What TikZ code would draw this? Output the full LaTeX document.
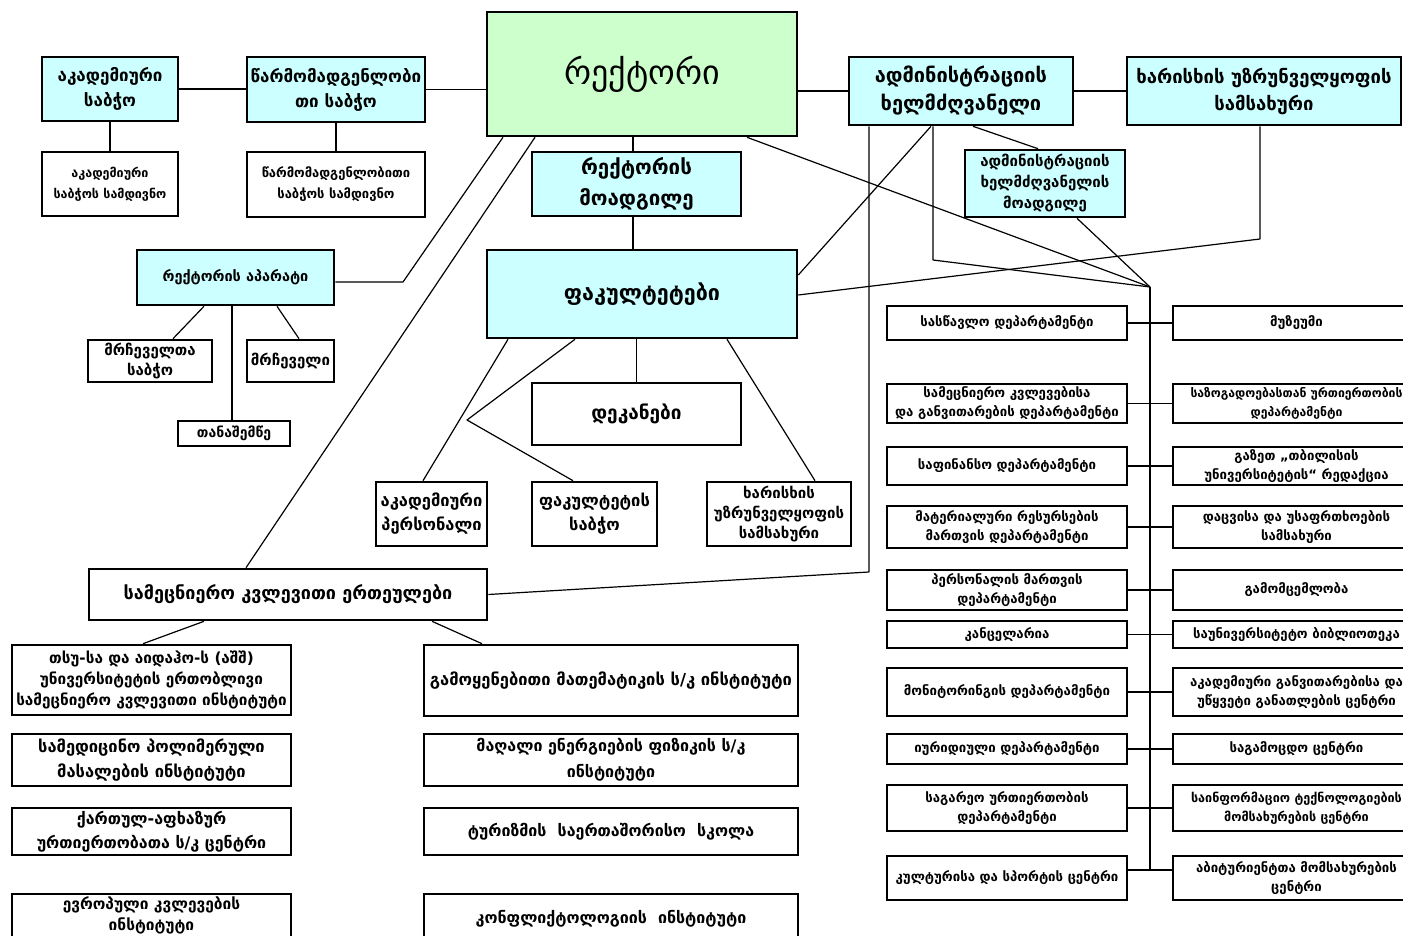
\documentclass[tikz,border=0pt]{standalone}
\usepackage{fontspec}
\setmainfont{DejaVu Sans}
\usetikzlibrary{backgrounds}
\definecolor{cy}{RGB}{204,255,255}
\definecolor{gr}{RGB}{204,255,204}
\newcommand\fs[2]{\fontsize{#1}{#2}\selectfont}
\newcommand\mkbox[7][]{\node[boxbase,#1,minimum width={(#5)-(#3)},minimum height={(#6)-(#4)}] (#2) at ({((#3)+(#5))/2},{((#4)+(#6))/2}) {#7};}
\tikzset{
  boxbase/.style={draw=black, line width=2.6pt, inner sep=0pt, align=center, fill=white},
  cyanbox/.style={fill=cy},
  greenbox/.style={fill=gr},
  conn/.style={line width=1.2pt, line join=round},
  rl/.style={font=\bfseries\fs{13.2}{19}},
}
\begin{document}
\begin{tikzpicture}[x=1pt,y=-1pt]
\useasboundingbox (0,0) rectangle (1403,936);
% top rows
\mkbox[greenbox,font=\fs{34}{40}]{rector}{487}{12}{797}{136}{რექტორი}
\mkbox[cyanbox,font=\bfseries\fs{17}{25}]{acs}{42}{57}{178}{121}{აკადემიური\\საბჭო}
\mkbox[cyanbox,font=\bfseries\fs{17}{25}]{rep}{247}{57}{425}{122}{წარმომადგენლობი\\თი საბჭო}
\mkbox[cyanbox,font=\bfseries\fs{20}{28}]{adm}{849}{57}{1073}{125}{ადმინისტრაციის\\ხელმძღვანელი}
\mkbox[cyanbox,font=\bfseries\fs{18.5}{27}]{qual}{1127}{57}{1401}{125}{ხარისხის უზრუნველყოფის\\სამსახური}
\mkbox[font=\bfseries\fs{12.5}{21}]{acsec}{42}{152}{178}{216}{აკადემიური\\საბჭოს სამდივნო}
\mkbox[font=\bfseries\fs{13}{21}]{repsec}{247}{152}{425}{217}{წარმომადგენლობითი\\საბჭოს სამდივნო}
\mkbox[cyanbox,font=\bfseries\fs{20.5}{31}]{dep}{532}{152}{741}{216}{რექტორის\\მოადგილე}
\mkbox[cyanbox,font=\bfseries\fs{15}{21}]{admdep}{965}{150}{1125}{217}{ადმინისტრაციის\\ხელმძღვანელის\\მოადგილე}
% rector's office
\mkbox[cyanbox,font=\bfseries\fs{14.5}{20}]{app}{137}{250}{334}{305}{რექტორის აპარატი}
\mkbox[font=\bfseries\fs{15}{20}]{advc}{88}{340}{212}{382}{მრჩეველთა\\საბჭო}
\mkbox[font=\bfseries\fs{15}{20}]{adv}{247}{340}{334}{382}{მრჩეველი}
\mkbox[font=\bfseries\fs{14}{18}]{asst}{178}{421}{290}{446}{თანაშემწე}
% faculties
\mkbox[cyanbox,font=\bfseries\fs{21.5}{28}]{fac}{487}{250}{797}{338}{ფაკულტეტები}
\mkbox[font=\bfseries\fs{19}{26}]{deans}{532}{383}{741}{445}{დეკანები}
\mkbox[font=\bfseries\fs{16.5}{24}]{staff}{376}{482}{487}{546}{აკადემიური\\პერსონალი}
\mkbox[font=\bfseries\fs{16.5}{24}]{fcouncil}{532}{482}{657}{546}{ფაკულტეტის\\საბჭო}
\mkbox[font=\bfseries\fs{15}{20}]{fqual}{707}{482}{851}{546}{ხარისხის\\უზრუნველყოფის\\სამსახური}
% research units
\mkbox[font=\bfseries\fs{18}{24}]{research}{89}{569}{487}{620}{სამეცნიერო კვლევითი ერთეულები}
\mkbox[font=\bfseries\fs{15.3}{21}]{L1}{12}{645}{291}{715}{თსუ-სა და აიდაჰო-ს (აშშ)\\უნივერსიტეტის ერთობლივი\\სამეცნიერო კვლევითი ინსტიტუტი}
\mkbox[font=\bfseries\fs{16.5}{25}]{L2}{12}{734}{291}{786}{სამედიცინო პოლიმერული\\მასალების ინსტიტუტი}
\mkbox[font=\bfseries\fs{16}{24}]{L3}{12}{808}{291}{855}{ქართულ-აფხაზურ\\ურთიერთობათა ს/კ ცენტრი}
\mkbox[font=\bfseries\fs{15.5}{21}]{L4}{12}{894}{291}{937}{ევროპული კვლევების\\ინსტიტუტი}
\mkbox[font=\bfseries\fs{16.5}{24}]{M1}{424}{645}{798}{716}{გამოყენებითი მათემატიკის ს/კ ინსტიტუტი}
\mkbox[font=\bfseries\fs{16}{26}]{M2}{424}{734}{798}{786}{მაღალი ენერგიების ფიზიკის ს/კ\\ინსტიტუტი}
\mkbox[font=\bfseries\fs{16}{24}]{M3}{424}{808}{798}{855}{ტურიზმის~~საერთაშორისო~~სკოლა}
\mkbox[font=\bfseries\fs{16}{24}]{M4}{424}{894}{798}{944}{კონფლიქტოლოგიის~~ინსტიტუტი}
% administration departments
\mkbox[rl]{A1}{887}{306}{1127}{340}{სასწავლო დეპარტამენტი}
\mkbox[rl]{A2}{887}{384}{1127}{423}{სამეცნიერო კვლევებისა\\და განვითარების დეპარტამენტი}
\mkbox[rl]{A3}{887}{447}{1127}{485}{საფინანსო დეპარტამენტი}
\mkbox[rl]{A4}{887}{506}{1127}{548}{მატერიალური რესურსების\\მართვის დეპარტამენტი}
\mkbox[rl]{A5}{887}{570}{1127}{610}{პერსონალის მართვის\\დეპარტამენტი}
\mkbox[rl]{A6}{887}{621}{1127}{648}{კანცელარია}
\mkbox[rl]{A7}{887}{668}{1127}{716}{მონიტორინგის დეპარტამენტი}
\mkbox[rl]{A8}{887}{734}{1127}{764}{იურიდიული დეპარტამენტი}
\mkbox[rl]{A9}{887}{785}{1127}{831}{საგარეო ურთიერთობის\\დეპარტამენტი}
\mkbox[rl]{A10}{887}{856}{1127}{900}{კულტურისა და სპორტის ცენტრი}
\mkbox[rl]{B1}{1173}{306}{1420}{340}{მუზეუმი}
\mkbox[rl,font=\bfseries\fs{12.2}{19}]{B2}{1173}{384}{1420}{423}{საზოგადოებასთან ურთიერთობის\\დეპარტამენტი}
\mkbox[rl]{B3}{1173}{447}{1420}{485}{გაზეთ „თბილისის\\უნივერსიტეტის“ რედაქცია}
\mkbox[rl]{B4}{1173}{506}{1420}{548}{დაცვისა და უსაფრთხოების\\სამსახური}
\mkbox[rl]{B5}{1173}{570}{1420}{610}{გამომცემლობა}
\mkbox[rl]{B6}{1173}{621}{1420}{648}{საუნივერსიტეტო ბიბლიოთეკა}
\mkbox[rl]{B7}{1173}{668}{1420}{716}{აკადემიური განვითარებისა და\\უწყვეტი განათლების ცენტრი}
\mkbox[rl]{B8}{1173}{734}{1420}{764}{საგამოცდო ცენტრი}
\mkbox[rl,font=\bfseries\fs{12.6}{19}]{B9}{1173}{785}{1420}{831}{საინფორმაციო ტექნოლოგიების\\მომსახურების ცენტრი}
\mkbox[rl]{B10}{1173}{856}{1420}{900}{აბიტურიენტთა მომსახურების\\ცენტრი}
% named bend points
\coordinate (bustop) at (1150,287);
\coordinate (busbot) at (1150,870);
\coordinate (appb) at (403,282);
\coordinate (fcb) at (467,420);
\coordinate (resb) at (869,572);
\coordinate (admb) at (933,260);
\coordinate (qualb) at (1260,239);
\begin{scope}[on background layer]
\fill[white] (0,0) rectangle (1403,936);
\begin{scope}[conn]
\draw (acs.east) -- (acs.east -| rep.west);
\draw (rep.east) -- (rep.east -| rector.west);
\draw (adm.west) -- (adm.west -| rector.east);
\draw (adm.east) -- (adm.east -| qual.west);
\draw (acs.south) -- (acs.south |- acsec.north);
\draw (repsec.north) -- (repsec.north |- rep.south);
\draw (633,0 |- rector.south) -- (633,0 |- dep.north);
\draw (633,0 |- dep.south) -- (633,0 |- fac.north);
\draw (deans.north) -- (deans.north |- fac.south);
\draw (232,0 |- app.south) -- (232,0 |- asst.north);
\draw (204,0 |- app.south) -- (173,0 |- advc.north);
\draw (277,0 |- app.south) -- (299,0 |- adv.north);
\draw (app.east |- appb) -- (appb) -- (503,0 |- rector.south);
\draw (535,0 |- rector.south) -- (246,0 |- research.north);
\draw (508,0 |- fac.south) -- (423,0 |- staff.north);
\draw (575,0 |- fac.south) -- (fcb) -- (573,0 |- fcouncil.north);
\draw (727,0 |- fac.south) -- (815,0 |- fqual.north);
\draw (research.east) -- (resb) -- (869,0 |- adm.south);
\draw (204,0 |- research.south) -- (143,0 |- L1.north);
\draw (432,0 |- research.south) -- (482,0 |- M1.north);
\draw (931,0 |- adm.south) -- (fac.east |- 0,275);
\draw (933,0 |- adm.south) -- (admb) -- (bustop);
\draw (973,0 |- adm.south) -- (1038,0 |- admdep.north);
\draw (747,0 |- rector.south) -- (bustop);
\draw (1077,0 |- admdep.south) -- (bustop);
\draw (1260,0 |- qual.south) -- (qualb) -- (fac.east |- 0,295);
\draw (bustop) -- (busbot);
\foreach \i in {1,...,9} { \draw (A\i.east) -- (B\i.west); }
\draw (A10.east |- busbot) -- (B10.west |- busbot);
\end{scope}
\end{scope}
\end{tikzpicture}
\end{document}
